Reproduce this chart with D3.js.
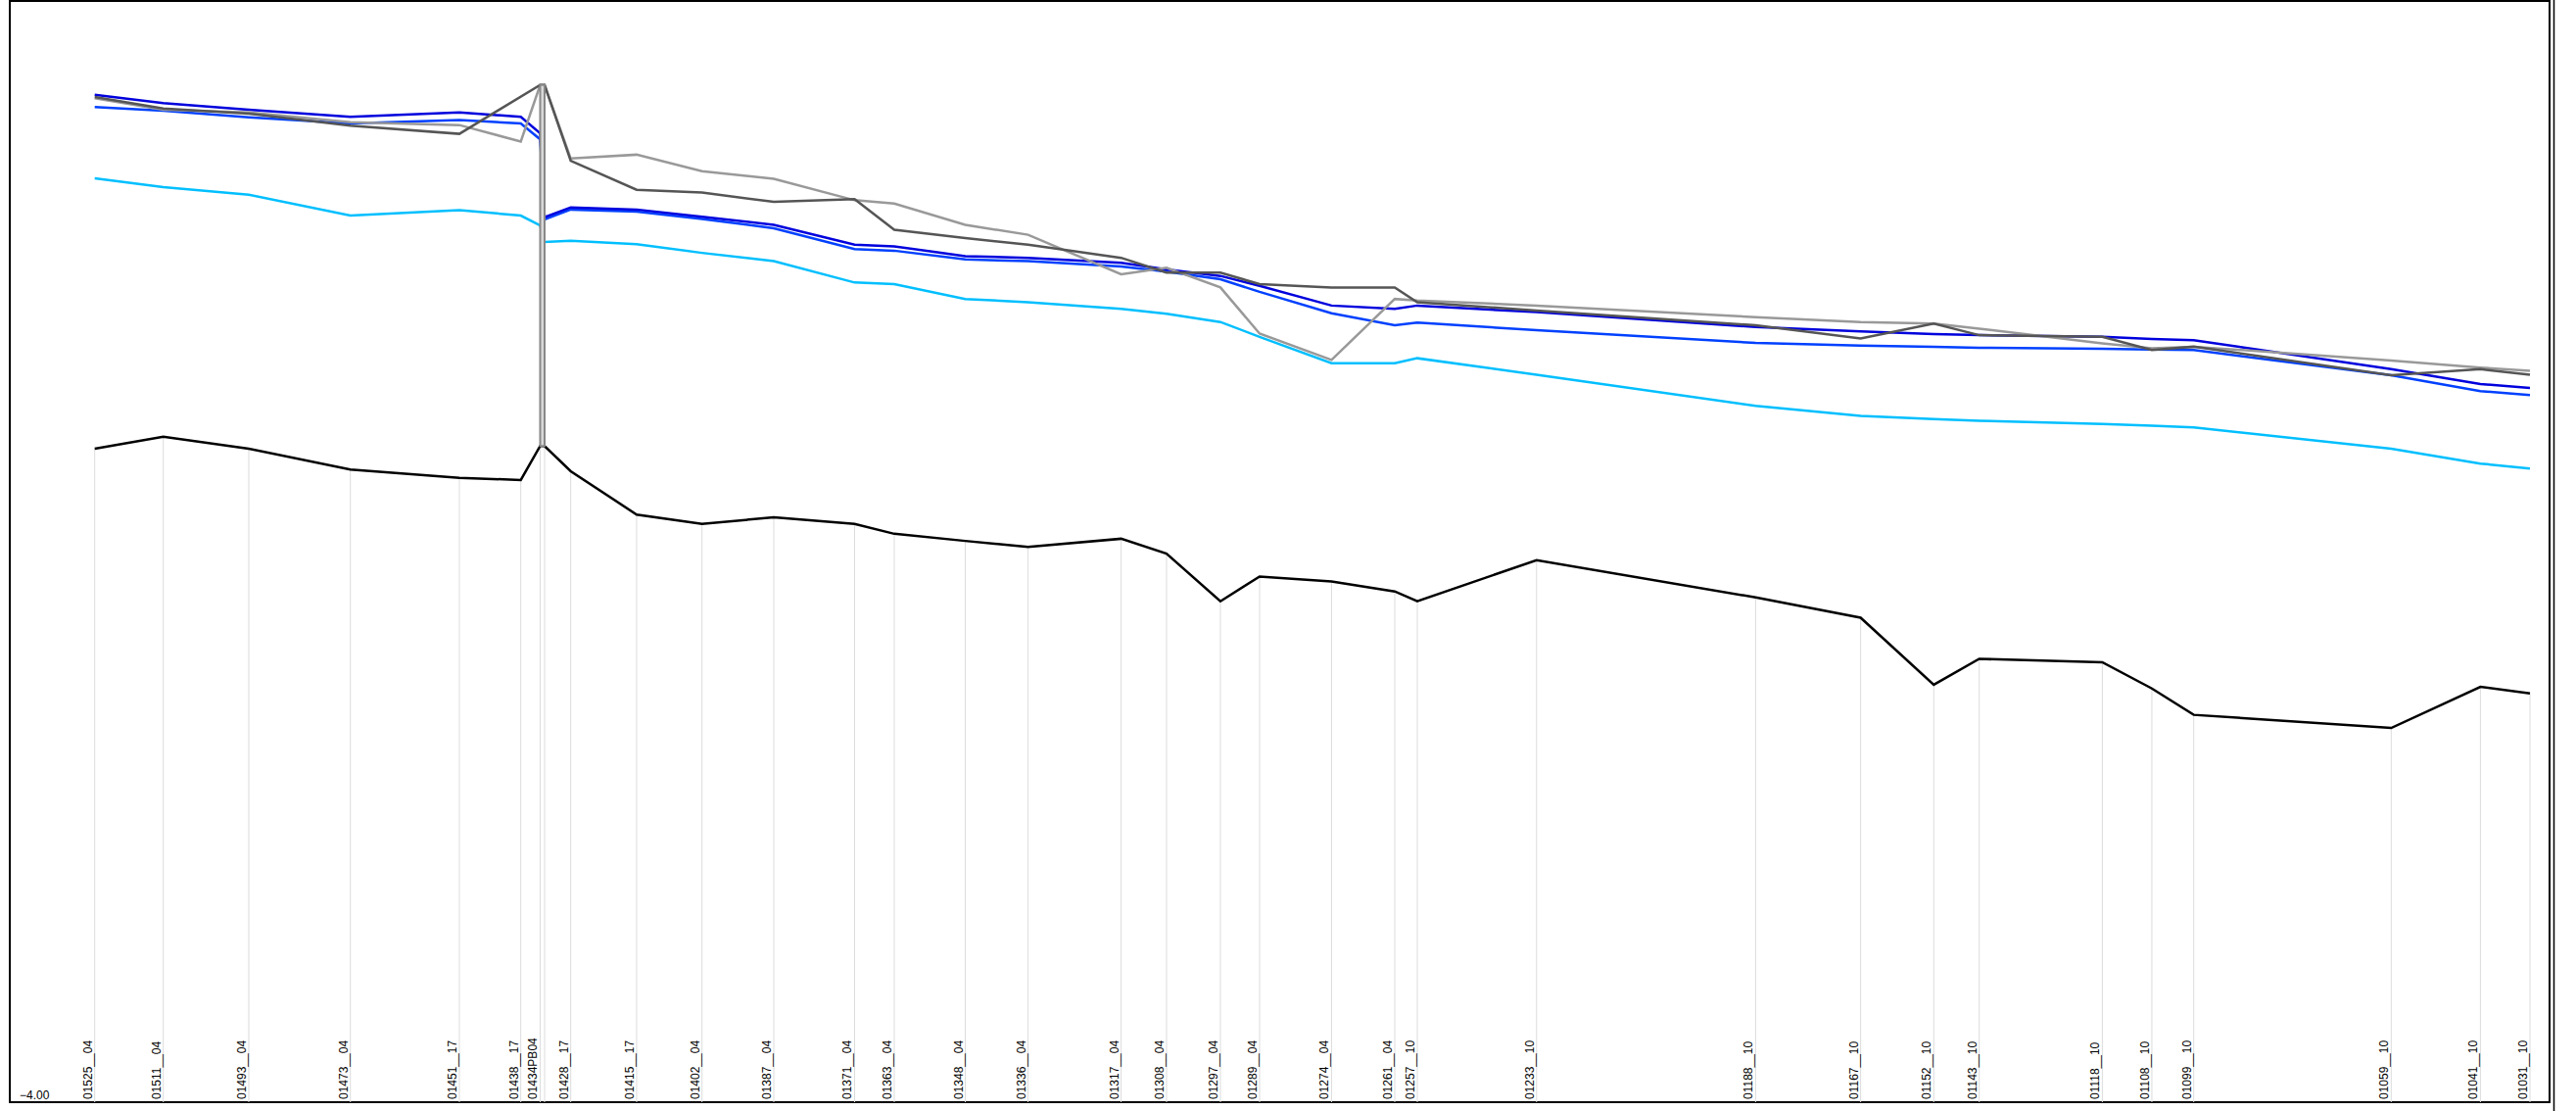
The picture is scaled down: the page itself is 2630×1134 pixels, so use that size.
<!DOCTYPE html>
<html><head><meta charset="utf-8">
<script src="https://cdn.jsdelivr.net/npm/d3@7"></script>
<style>html,body{margin:0;padding:0;background:#fff;overflow:hidden}svg{display:block}</style>
</head><body>
<svg id="chart" width="2630" height="1134"></svg>
<script>
const stations = ["01525__04","01511__04","01493__04","01473__04","01451__17","01438__17","01434PB04","","01428__17","01415__17","01402__04","01387__04","01371__04","01363__04","01348__04","01336__04","01317__04","01308__04","01297__04","01289__04","01274__04","01261__04","01257__10","01233__10","01188__10","01167__10","01152__10","01143__10","01118__10","01108__10","01099__10","01059__10","01041__10","01031__10"];
const chainage = [1525.00,1511.09,1493.75,1473.14,1451.03,1438.57,1434.64,1433.74,1428.44,1415.07,1401.81,1387.25,1370.86,1362.81,1348.40,1335.67,1316.79,1307.58,1296.65,1288.70,1274.11,1261.28,1256.71,1232.52,1188.08,1166.78,1151.94,1142.72,1117.75,1107.70,1099.21,1059.15,1041.05,1031.00];
const bedLevel = [7.91,8.13,7.91,7.53,7.38,7.34,7.96,7.96,7.50,6.71,6.54,6.66,6.54,6.36,6.23,6.12,6.27,6.00,5.13,5.58,5.49,5.31,5.13,5.88,5.20,4.83,3.61,4.08,4.02,3.54,3.06,2.82,3.57,3.45];
const waterLow = [12.84,12.68,12.54,12.16,12.26,12.16,11.98,11.68,11.70,11.64,11.48,11.33,10.94,10.91,10.64,10.58,10.46,10.37,10.22,9.95,9.47,9.47,9.56,9.26,8.69,8.51,8.45,8.42,8.36,8.33,8.30,7.91,7.64,7.55];
const waterMid = [14.14,14.07,13.95,13.84,13.90,13.84,13.55,12.09,12.27,12.23,12.10,11.93,11.55,11.52,11.36,11.33,11.23,11.14,11.00,10.77,10.38,10.16,10.21,10.07,9.84,9.79,9.77,9.75,9.73,9.72,9.71,9.25,8.96,8.89];
const waterHigh = [14.36,14.21,14.09,13.96,14.04,13.96,13.66,12.13,12.31,12.27,12.14,11.99,11.63,11.60,11.42,11.39,11.30,11.18,11.06,10.88,10.52,10.46,10.52,10.40,10.13,10.05,10.00,9.98,9.95,9.91,9.89,9.36,9.09,9.02];
const bankLeft = [14.32,14.11,14.02,13.80,13.65,null,14.54,14.54,13.16,12.63,12.58,12.41,12.46,11.90,11.75,11.63,11.39,11.12,11.12,10.91,10.85,10.85,10.58,10.43,10.16,9.92,10.19,9.98,9.95,9.71,9.77,9.25,9.36,9.26];
const bankRight = [14.30,14.09,14.04,13.86,13.81,13.51,14.54,14.54,13.20,13.27,12.97,12.83,12.44,12.38,11.99,11.81,11.09,11.21,10.85,10.01,9.53,10.64,10.61,10.52,10.31,10.22,10.19,10.10,9.83,9.74,9.77,9.52,9.39,9.33];
const bridgeChainage = [1434.64, 1433.74];
const bridgeLevels = [7.96, 14.54];
const yTicks = [-4];

const svg = d3.select("#chart");
const W = 2630, H = 1134;
const plot = {left: 10, top: 1, right: 2603, bottom: 1125};

const x = d3.scaleLinear().domain([1525, 1031]).range([96.7, 2583]);
const y = d3.scaleLinear().domain([-4, 16]).range([1125, 5]);

svg.append("rect").attr("x", plot.left).attr("y", plot.top)
  .attr("width", plot.right - plot.left).attr("height", plot.bottom - plot.top)
  .attr("fill", "#fff").attr("stroke", "#000").attr("stroke-width", 2);
svg.append("line").attr("x1", 2607.5).attr("x2", 2607.5).attr("y1", 0).attr("y2", H)
  .attr("stroke", "#000").attr("stroke-width", 1.5);

const pts = chainage.map((c, i) => ({c, i}));

svg.append("g").selectAll("line").data(pts).join("line")
  .attr("x1", d => x(d.c)).attr("x2", d => x(d.c))
  .attr("y1", d => y(bedLevel[d.i])).attr("y2", y(-4))
  .attr("stroke", "#dcdcdc").attr("stroke-width", 1);

svg.append("g").selectAll("text").data(pts).join("text")
  .attr("transform", d => `translate(${x(d.c) - 3},${y(-4) - 3}) rotate(-90)`)
  .attr("font-family", "'Liberation Sans', Arial, sans-serif")
  .attr("font-size", 12).attr("fill", "#000")
  .text(d => stations[d.i]);

svg.append("g").selectAll("text").data(yTicks).join("text")
  .attr("x", 20).attr("y", d => y(d) - 3)
  .attr("font-family", "'Liberation Sans', Arial, sans-serif")
  .attr("font-size", 12).text(d => d3.format(".2f")(d));

const series = [
  {vals: bedLevel, color: "#000000", w: 2.5},
  {vals: waterLow, color: "#00bfff", w: 2.5},
  {vals: waterMid, color: "#0040ff", w: 2.5},
  {vals: waterHigh, color: "#0000dd", w: 2.5},
  {vals: bankRight, color: "#999999", w: 2.5},
  {vals: bankLeft, color: "#555555", w: 2.5}
];
const line = d3.line().x(d => x(d.c)).y(d => y(d.v));
series.forEach(s => {
  const data = chainage.map((c, i) => ({c, v: s.vals[i]})).filter(d => d.v !== null);
  svg.append("path").datum(data).attr("d", line)
    .attr("fill", "none").attr("stroke", s.color).attr("stroke-width", s.w)
    .attr("stroke-linejoin", "miter");
});

svg.append("rect")
  .attr("x", x(bridgeChainage[0])).attr("width", x(bridgeChainage[1]) - x(bridgeChainage[0]))
  .attr("y", y(bridgeLevels[1])).attr("height", y(bridgeLevels[0]) - y(bridgeLevels[1]))
  .attr("fill", "#d8d8d8").attr("stroke", "#888").attr("stroke-width", 2);
</script>
</body></html>
